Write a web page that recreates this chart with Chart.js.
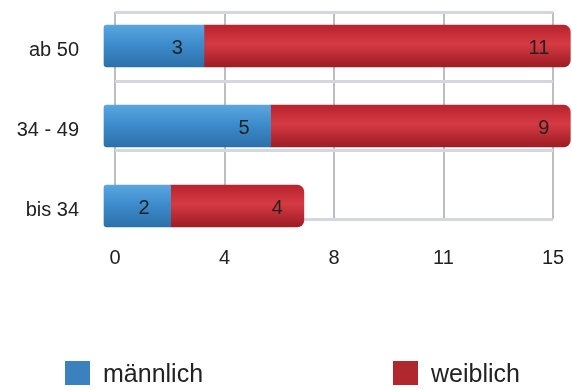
<!DOCTYPE html>
<html>
<head>
<meta charset="utf-8">
<script src="https://cdn.jsdelivr.net/npm/chart.js@4/dist/chart.umd.min.js"></script>
<style>
  body { margin: 0; background: #fff; font-family: "Liberation Sans", Arial, sans-serif; }
  #wrap { position: relative; width: 572px; height: 390px; }
  .legend-item { position: absolute; top: 358px; height: 30px; display: flex; align-items: center; font-size: 25px; color: #222; }
  .legend-item span { display: inline-block; width: 25px; height: 24px; margin-right: 13px; }
</style>
</head>
<body>
<div id="wrap">
  <canvas id="ageChart" width="572" height="390"></canvas>
  <div id="legend"></div>
</div>
<script>
const categories = ["ab 50", "34 - 49", "bis 34"];
const seriesNames = ["männlich", "weiblich"];
const maleValues = [3, 5, 2];
const femaleValues = [11, 9, 4];
const gridTicks = [0, 3.75, 7.5, 11.25, 15];
const gridTickLabels = ["0", "4", "8", "11", "15"];

const FONT = "'Liberation Sans', Arial, sans-serif";
const barSize = 42;
const blueStops = ["#5ba6df", "#3d8ccc", "#2c70aa"];
const redStops = ["#b8232e", "#d63a43", "#9c1c25"];

function shade(context, stops) {
  const yScale = context.chart.scales.y;
  if (!yScale || context.dataIndex === undefined) return stops[1];
  const mid = yScale.getPixelForValue(context.dataIndex);
  if (!isFinite(mid)) return stops[1];
  const g = context.chart.ctx.createLinearGradient(0, mid - barSize / 2, 0, mid + barSize / 2);
  g.addColorStop(0, stops[0]);
  g.addColorStop(0.45, stops[1]);
  g.addColorStop(1, stops[2]);
  return g;
}

// values written inside the bars, near the end of each segment
const valueLabels = {
  id: "valueLabels",
  afterDatasetsDraw(chart) {
    const ctx = chart.ctx;
    ctx.save();
    ctx.font = "20px " + FONT;
    ctx.fillStyle = "#222";
    ctx.textAlign = "right";
    ctx.textBaseline = "middle";
    chart.data.datasets.forEach((ds, di) => {
      chart.getDatasetMeta(di).data.forEach((bar, i) => {
        ctx.fillText(ds.data[i].x, bar.x - 21, bar.y + 2);
      });
    });
    ctx.restore();
  },
};

const legendColors = ["#3b80bf", "#b0282e"];
const legendLeft = [65, 393];
const legend = document.getElementById("legend");
seriesNames.forEach((name, i) => {
  const item = document.createElement("div");
  item.className = "legend-item";
  item.style.left = legendLeft[i] + "px";
  item.innerHTML = `<span style="background:${legendColors[i]}"></span>${name}`;
  legend.appendChild(item);
});

const ctx = document.getElementById("ageChart").getContext("2d");

const chart = new Chart(ctx, {
  type: "bar",
  data: {
    datasets: [
      {
        label: seriesNames[0],
        data: maleValues.map((v, i) => ({ x: v, y: i })),
        backgroundColor: (c) => shade(c, blueStops),
        borderSkipped: false,
        borderRadius: { topLeft: 3, bottomLeft: 3, topRight: 0, bottomRight: 0 },
        barThickness: barSize,
        clip: false,
      },
      {
        label: seriesNames[1],
        data: femaleValues.map((v, i) => ({ x: v, y: i })),
        backgroundColor: (c) => shade(c, redStops),
        borderSkipped: false,
        borderRadius: { topLeft: 0, bottomLeft: 0, topRight: 7, bottomRight: 7 },
        barThickness: barSize,
        clip: false,
      },
    ],
  },
  options: {
    indexAxis: "y",
    responsive: false,
    animation: false,
    layout: { padding: { top: 12, right: 19, left: 0, bottom: 0 } },
    plugins: {
      legend: { display: false },
      tooltip: { enabled: false },
    },
    scales: {
      x: {
        type: "linear",
        display: false,
        stacked: true,
        min: 0.33,
        max: 13.48,
      },
      x2: {
        type: "linear",
        position: "bottom",
        min: 0,
        max: 15,
        afterBuildTicks: (axis) => {
          axis.ticks = gridTicks.map((v) => ({ value: v }));
        },
        afterFit: (axis) => {
          axis.height = 171;
          axis.paddingLeft = 0;
          axis.paddingRight = 0;
        },
        ticks: {
          autoSkip: false,
          maxRotation: 0,
          padding: 27,
          color: "#222",
          font: { size: 20, family: FONT },
          callback: (value, index) => gridTickLabels[index],
        },
        grid: { color: "#bdbdc6", lineWidth: 2, drawTicks: false },
        border: { display: false },
      },
      y: {
        type: "linear",
        reverse: true,
        stacked: true,
        offset: false,
        min: -0.425,
        max: 2.1625,
        afterBuildTicks: (axis) => {
          axis.ticks = categories.map((c, i) => ({ value: i }));
        },
        afterFit: (axis) => {
          axis.width = 115;
          axis.paddingTop = 0;
          axis.paddingBottom = 0;
        },
        ticks: {
          autoSkip: false,
          padding: 36,
          labelOffset: 4,
          color: "#222",
          font: { size: 20, family: FONT },
          callback: (value) => categories[value],
        },
        grid: { display: false, drawTicks: false },
        border: { display: false },
      },
      y2: {
        type: "linear",
        position: "right",
        offset: false,
        min: 0,
        max: 3,
        afterBuildTicks: (axis) => {
          axis.ticks = [0, 1, 2, 3].map((v) => ({ value: v }));
        },
        afterFit: (axis) => {
          axis.width = 0;
          axis.paddingTop = 0;
          axis.paddingBottom = 0;
        },
        ticks: { display: false },
        grid: { offset: false, color: "#d6d6e0", lineWidth: 3, drawTicks: false },
        border: { display: false },
      },
    },
  },
  plugins: [valueLabels],
});
chart.update();
</script>
</body>
</html>
